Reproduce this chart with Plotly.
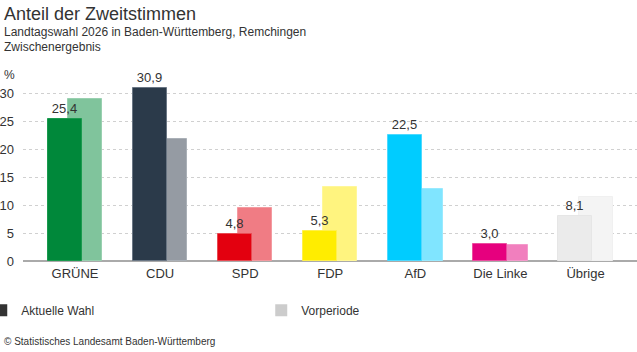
import plotly.graph_objects as go

parties = ["GRÜNE", "CDU", "SPD", "FDP", "AfD", "Die Linke", "Übrige"]
current = [25.4, 30.9, 4.8, 5.3, 22.5, 3.0, 8.1]
previous = [28.9, 21.7, 9.4, 13.3, 12.8, 2.8, 11.5]
colors_current = ["#00883a", "#2b3a4a", "#e3000f", "#ffed00", "#00ccff", "#e6007e", "#ebebeb"]
colors_previous = ["#80c49c", "#959ba3", "#f07c84", "#fff47f", "#80e5ff", "#f17fbe", "#f4f4f4"]
border_current = ["#1a9a4e", "#6a7684", "#e84a52", "#fff04c", "#4dd9ff", "#eb4d9f", "#e6e6e6"]
border_previous = ["#99d0b0", "#aab0b7", "#f39aa0", "#fff799", "#99eaff", "#f49acb", "#f0f0f0"]
y_ticks = [0, 5, 10, 15, 20, 25, 30]

labels = [f"{v:.1f}".replace(".", ",") for v in current]

fig = go.Figure()
fig.add_trace(go.Bar(
    x=parties, y=previous, width=0.4, offset=-0.08,
    marker=dict(color=colors_previous, line=dict(color=border_previous, width=1)),
    showlegend=False, hoverinfo="skip"))
fig.add_trace(go.Bar(
    x=parties, y=current, width=0.4, offset=-0.32,
    marker=dict(color=colors_current, line=dict(color=border_current, width=1)),
    text=labels, textposition="outside", cliponaxis=False,
    textfont=dict(size=13, color="#333333", family="Liberation Sans, Arial, sans-serif"),
    showlegend=False, hoverinfo="skip"))

# legend dummies
fig.add_trace(go.Scatter(x=[None], y=[None], mode="markers", name="Aktuelle Wahl",
                         marker=dict(symbol="square", size=10, color="#333333")))
fig.add_trace(go.Scatter(x=[None], y=[None], mode="markers", name="Vorperiode",
                         marker=dict(symbol="square", size=10, color="#cccccc")))

fig.update_layout(
    width=637, height=352,
    margin=dict(l=23, r=0, t=79, b=91, autoexpand=False),
    paper_bgcolor="white", plot_bgcolor="white",
    barmode="overlay", bargap=0,
    font=dict(family="Liberation Sans, Arial, sans-serif", color="#333333", size=12),
    showlegend=True,
    legend=dict(orientation="h", x=-0.068, xanchor="left", y=-0.27, yanchor="middle",
                entrywidth=235, entrywidthmode="pixels", itemsizing="constant",
                font=dict(size=12, color="#333333"), bgcolor="rgba(0,0,0,0)"),
    xaxis=dict(range=[-0.611, 6.605], showgrid=False, zeroline=False,
               showline=False, ticks="", tickfont=dict(size=13, color="#333333"),
               ticklabelstandoff=3, fixedrange=True),
    yaxis=dict(range=[0, 32.5], tickvals=y_ticks, showgrid=True,
               gridcolor="#d0d0d0", griddash="dot", gridwidth=1,
               zeroline=True, zerolinecolor="#aaaaaa", zerolinewidth=2,
               ticks="", tickfont=dict(size=13, color="#333333"),
               ticklabelstandoff=8, fixedrange=True),
    annotations=[
        dict(text="Anteil der Zweitstimmen", x=2, y=352 - 2,
             showarrow=False, xanchor="left", yanchor="top",
             font=dict(size=18, color="#333333")),
        dict(text="Landtagswahl 2026 in Baden-Württemberg, Remchingen", x=2, y=352 - 23,
             showarrow=False, xanchor="left", yanchor="top", font=dict(size=12, color="#333333")),
        dict(text="Zwischenergebnis", x=2, y=352 - 38,
             showarrow=False, xanchor="left", yanchor="top", font=dict(size=12, color="#333333")),
        dict(text="%", x=2, y=352 - 66,
             showarrow=False, xanchor="left", yanchor="top", font=dict(size=12, color="#333333")),
        dict(text="© Statistisches Landesamt Baden-Württemberg", x=2, y=352 - 334,
             showarrow=False, xanchor="left", yanchor="top", font=dict(size=10, color="#333333")),
    ],
)

# place annotations in pixel coordinates of the paper
for a in fig.layout.annotations:
    px_x = a.x
    px_y = a.y
    a.xref = "paper"
    a.yref = "paper"
    a.x = (px_x - 23) / (637 - 23)
    a.y = (px_y - 91) / (352 - 79 - 91)

fig.write_html("out.html")
